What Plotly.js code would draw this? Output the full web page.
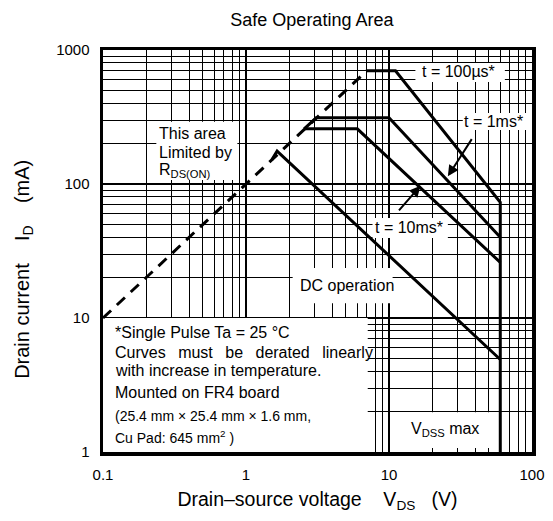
<!DOCTYPE html>
<html>
<head>
<meta charset="utf-8">
<script src="https://cdn.plot.ly/plotly-3.0.1.min.js"></script>
<style>html,body{margin:0;padding:0;background:#fff;}#chart{width:553px;height:521px;}</style>
</head>
<body>
<div id="chart"></div>
<script>
// ---- data (V in volts, I in mA) ----
const rdsV = [0.1, 7];
const rdsI = [10, 700];
const us100V = [7, 11.1, 60, 60];
const us100I = [700, 700, 73, 1];
const ms1V = [2.55, 3.1, 10, 60];
const ms1I = [258, 312, 312, 40];
const ms10V = [2.55, 6, 60];
const ms10I = [258, 258, 26];
const dcV = [1.52, 1.65, 60];
const dcI = [152, 176, 4.9];

const xTickVals = [0.1, 1, 10, 100];
const xTickText = ['0.1', '1', '10', '100'];
const yTickVals = [1, 10, 100, 1000];
const yTickText = ['1', '10', '100', '1000'];

function minorVals(lo, hi) {
  const out = [];
  for (let d = lo; d < hi; d *= 10) {
    for (let k = 2; k <= 9; k++) out.push(+(k * d).toPrecision(3));
  }
  return out;
}

const FONT = 'Liberation Sans, Arial, Helvetica, sans-serif';
const L = Math.log10;

const solid = {color: 'black', width: 3};
const traces = [
  {x: rdsV, y: rdsI, mode: 'lines', line: {color: 'black', width: 3, dash: '11px,8px'}},
  {x: us100V, y: us100I, mode: 'lines', line: solid},
  {x: ms1V, y: ms1I, mode: 'lines', line: solid},
  {x: ms10V, y: ms10I, mode: 'lines', line: solid},
  {x: dcV, y: dcI, mode: 'lines', line: solid}
];

function box(x0, x1, y0, y1) {
  return {type: 'rect', xref: 'x', yref: 'y', x0: x0, x1: x1, y0: y0, y1: y1,
          fillcolor: 'white', line: {width: 0}, layer: 'between'};
}
const shapes = [
  box(0.236, 0.87, 107, 292),     // RDS(on) label
  box(15.3, 64.6, 577, 800),      // 100us label
  box(32.8, 100, 253, 339),       // 1ms label
  box(7.67, 25.8, 39.5, 55.7),    // 10ms label
  box(2.12, 10.6, 12.9, 23.6),    // DC label
  box(0.1, 7.1, 1, 10),           // notes
  box(10.3, 57.5, 1.07, 1.98)     // VDSS label
];

function txt(text, xv, yv, size) {
  return {text: text, x: L(xv), y: L(yv), xref: 'x', yref: 'y', showarrow: false,
          xanchor: 'left', yanchor: 'middle', align: 'left',
          font: {family: FONT, size: size || 16, color: 'black'}};
}
function arrow(tipV, tipI, tailV, tailI) {
  return {text: '', x: L(tipV), y: L(tipI), ax: L(tailV), ay: L(tailI),
          xref: 'x', yref: 'y', axref: 'x', ayref: 'y', showarrow: true,
          arrowhead: 2, arrowsize: 1.1, arrowwidth: 2, arrowcolor: 'black'};
}
const sp = '\u00a0\u2002';
const annotations = [
  txt('This area', 0.238, 240, 16),
  txt('Limited by', 0.238, 173, 16),
  txt('R<sub>DS(ON)</sub>', 0.238, 127, 16),
  txt('t = 100µs*', 16.6, 690, 16),
  txt('t = 1ms*', 32.6, 292, 16),
  txt('t = 10ms*', 7.7, 47, 16),
  txt('DC operation', 2.3, 17.6, 16),
  txt('V<sub>DSS</sub> max', 13.8, 1.47, 16),
  txt('*Single Pulse Ta = 25 °C', 0.118, 7.86, 16),
  txt('Curves' + sp + 'must' + sp + 'be' + sp + 'derated' + sp + 'linearly', 0.118, 5.57, 16),
  txt('with increase in temperature.', 0.118, 4.09, 16),
  txt('Mounted on FR4 board', 0.118, 2.76, 16),
  txt('(25.4 mm × 25.4 mm × 1.6 mm,', 0.118, 1.86, 14),
  txt('Cu Pad: 645 mm<sup>2</sup> )', 0.118, 1.29, 14),
  arrow(25.8, 114, 38.5, 222),
  arrow(16.6, 97, 11.5, 62),
  {text: 'Drain current' + '\u00a0\u00a0\u00a0\u00a0' + 'I<sub>D</sub>' + '\u00a0\u00a0\u00a0\u00a0' + '(mA)',
   xref: 'paper', yref: 'paper', x: -0.187, y: 0.455, xanchor: 'center', yanchor: 'middle',
   textangle: -90, showarrow: false, font: {family: FONT, size: 20, color: 'black'}}
];

const axisCommon = {
  type: 'log', showline: true, mirror: true, linecolor: 'black', linewidth: 3.5,
  showgrid: true, gridcolor: 'black', gridwidth: 2, zeroline: false,
  ticks: '', tickmode: 'array', tickfont: {family: FONT, size: 15, color: 'black'}
};

const layout = {
  width: 553, height: 521,
  margin: {l: 103, r: 21, t: 50, b: 69},
  paper_bgcolor: 'white', plot_bgcolor: 'white',
  showlegend: false,
  font: {family: FONT, color: 'black'},
  title: {text: 'Safe Operating Area', font: {family: FONT, size: 18, color: 'black'},
          x: 0.564, xref: 'container', xanchor: 'center', y: 0.962, yref: 'container', yanchor: 'middle'},
  xaxis: Object.assign({}, axisCommon, {
    range: [-1, 2], tickvals: xTickVals, ticktext: xTickText, ticklabelstandoff: 6,
    minor: {tickmode: 'array', tickvals: minorVals(0.1, 100), showgrid: true, gridcolor: 'black', gridwidth: 1, ticks: ''},
    title: {text: 'Drain–source voltage' + '\u00a0\u00a0\u00a0\u00a0' + 'V<sub>DS</sub>' + '\u00a0\u00a0\u00a0' + '(V)',
            font: {family: FONT, size: 19.5, color: 'black'}, standoff: 12}
  }),
  yaxis: Object.assign({}, axisCommon, {
    range: [0, 3], tickvals: yTickVals, ticktext: yTickText, ticklabelstandoff: 7,
    minor: {tickmode: 'array', tickvals: minorVals(1, 1000), showgrid: true, gridcolor: 'black', gridwidth: 1, ticks: ''}
  }),
  shapes: shapes,
  annotations: annotations
};

Plotly.newPlot('chart', traces, layout, {displayModeBar: false, staticPlot: true});
</script>
</body>
</html>
